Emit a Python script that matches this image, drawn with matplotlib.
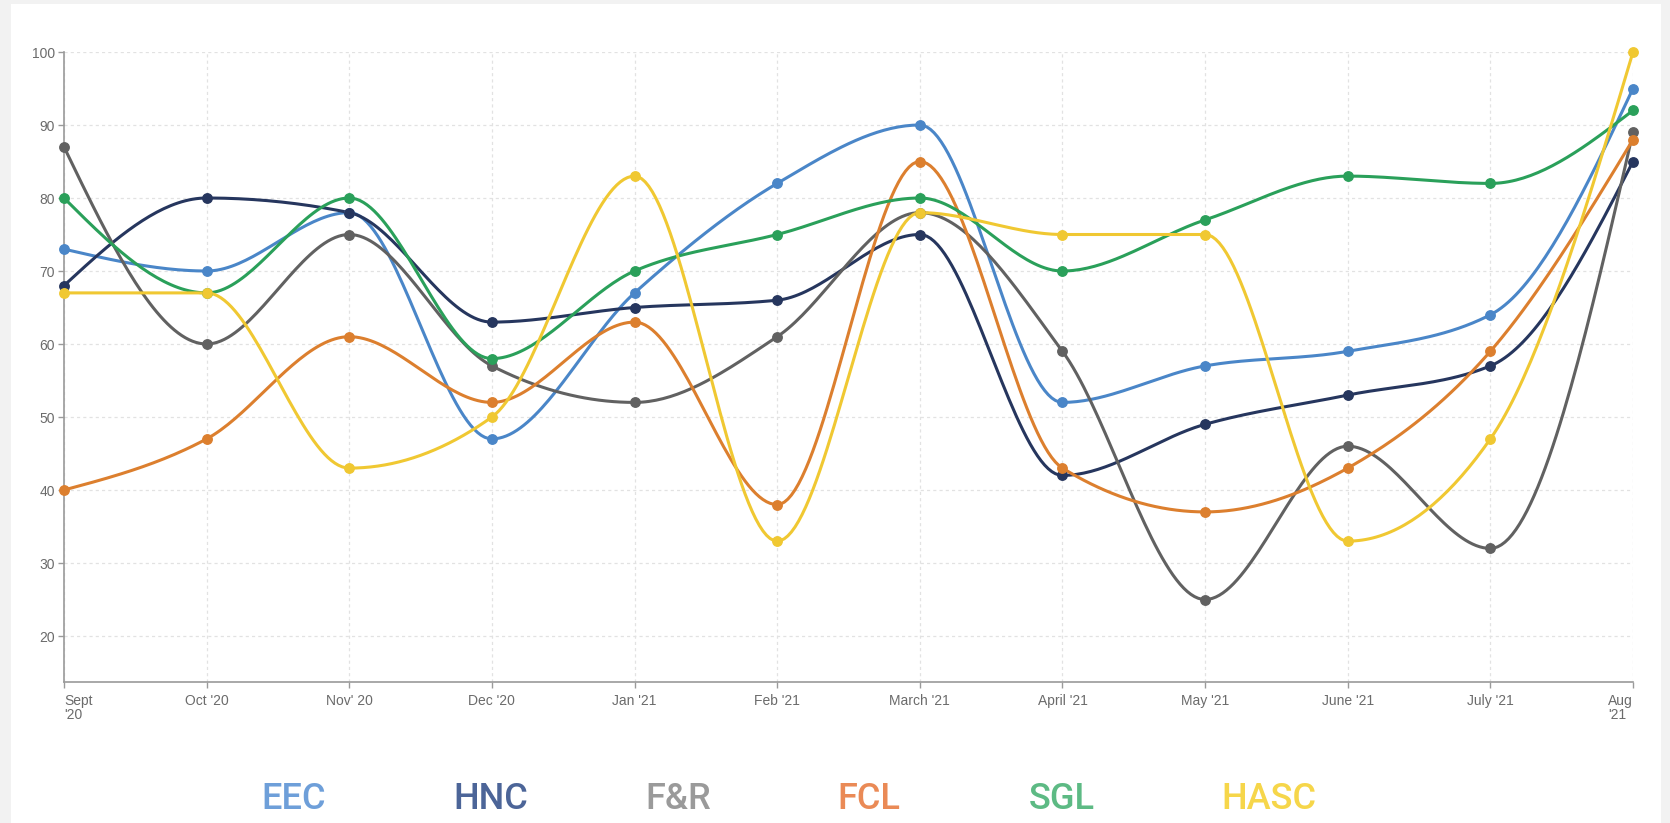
import numpy as np
import matplotlib
matplotlib.use("Agg")
import matplotlib.pyplot as plt
from matplotlib.patches import Rectangle

months = ["Sept\n'20", "Oct '20", "Nov' 20", "Dec '20", "Jan '21", "Feb '21",
          "March '21", "April '21", "May '21", "June '21", "July '21", "Aug\n'21"]

eec = [73, 70, 78, 47, 67, 82, 90, 52, 57, 59, 64, 95]
hnc = [68, 80, 78, 63, 65, 66, 75, 42, 49, 53, 57, 85]
f_r = [87, 60, 75, 57, 52, 61, 78, 59, 25, 46, 32, 89]
fcl = [40, 47, 61, 52, 63, 38, 85, 43, 37, 43, 59, 88]
sgl = [80, 67, 80, 58, 70, 75, 80, 70, 77, 83, 82, 92]
hasc = [67, 67, 43, 50, 83, 33, 78, 75, 75, 33, 47, 100]

names = ["EEC", "HNC", "F&R", "FCL", "SGL", "HASC"]
series = [eec, hnc, f_r, fcl, sgl, hasc]
line_colors = ["#4a86c8", "#26365e", "#616161", "#dc7f2e", "#2aa05a", "#f0c832"]
legend_colors = ["#6e9fd9", "#4c6598", "#9a9a9a", "#ea8a56", "#5dba84", "#f6d64a"]

W, H = 1670, 823


# monotone cubic (same rule as d3 curveMonotoneX) for the drawn line
def monotone(xs, ys, steps=40):
    x = np.asarray(xs, float)
    y = np.asarray(ys, float)
    h = np.diff(x)
    s = np.diff(y) / h
    t = np.zeros(len(x))
    for i in range(1, len(x) - 1):
        s0, s1 = s[i - 1], s[i]
        p = (s0 * h[i] + s1 * h[i - 1]) / (h[i - 1] + h[i])
        t[i] = (np.sign(s0) + np.sign(s1)) * min(abs(s0), abs(s1), 0.5 * abs(p))
    t[0] = (3 * s[0] - t[1]) / 2
    t[-1] = (3 * s[-1] - t[-2]) / 2
    px, py = [], []
    for i in range(len(x) - 1):
        u = np.linspace(0, 1, steps, endpoint=(i == len(x) - 2))
        h00 = 2 * u**3 - 3 * u**2 + 1
        h10 = u**3 - 2 * u**2 + u
        h01 = -2 * u**3 + 3 * u**2
        h11 = u**3 - u**2
        px.append(x[i] + u * h[i])
        py.append(h00 * y[i] + h10 * h[i] * t[i] + h01 * y[i + 1] + h11 * h[i] * t[i + 1])
    return np.concatenate(px), np.concatenate(py)


plt.rcParams['font.family'] = ['Liberation Sans', 'DejaVu Sans']

fig = plt.figure(figsize=(W / 100, H / 100), dpi=100)
fig.patch.set_facecolor("#f2f2f2")
fig.patches.append(Rectangle((11 / W, 0), (1661 - 11) / W, 1 - 4 / H,
                             transform=fig.transFigure, facecolor="white",
                             edgecolor="none", zorder=-5))

ax = fig.add_axes([64 / W, 1 - 682 / H, (1633 - 64) / W, (682 - 52) / H])
ax.set_facecolor("none")
ax.set_zorder(2)

xs = np.arange(len(months))
for vals, c in zip(series, line_colors):
    cx, cy = monotone(xs, vals)
    ax.plot(cx, cy, color=c, lw=2.2, solid_capstyle="round", zorder=3)
    ax.plot(xs, vals, "o", color=c, ms=6.8, zorder=4, clip_on=False)

ax.set_xlim(0, 11)
ax.set_ylim(13.7, 100)
ax.set_yticks(range(20, 101, 10))
ax.set_xticks(xs)
ax.set_xticklabels(months)

for sp in ["top", "right"]:
    ax.spines[sp].set_visible(False)
for sp in ["left", "bottom"]:
    ax.spines[sp].set_color("#9a9a9a")
    ax.spines[sp].set_linewidth(1.2)

ax.grid(True, color="#e2e2e2", linestyle=(0, (2.5, 2.5)), linewidth=0.9, zorder=0)
ax.tick_params(axis="both", colors="#9a9a9a", labelcolor="#6b6b6b", labelsize=10,
               length=4.5, width=1.0)
ax.tick_params(axis="y", pad=2)
ax.tick_params(axis="x", pad=4)

labels = ax.get_xticklabels()
labels[0].set_horizontalalignment("left")
labels[0].set_multialignment("left")
labels[-1].set_horizontalalignment("right")
labels[-1].set_multialignment("left")
for lab in labels:
    lab.set_linespacing(1.05)

# legend as coloured words under the plot
for i, (name, c) in enumerate(zip(names, legend_colors)):
    fig.text((261 + 192 * i) / W, 1 - 809 / H, name, color=c, fontsize=26,
             family=["Roboto", "Liberation Sans"], weight="medium",
             ha="left", va="baseline")

fig.savefig("out.png", dpi=100, facecolor=fig.get_facecolor())
